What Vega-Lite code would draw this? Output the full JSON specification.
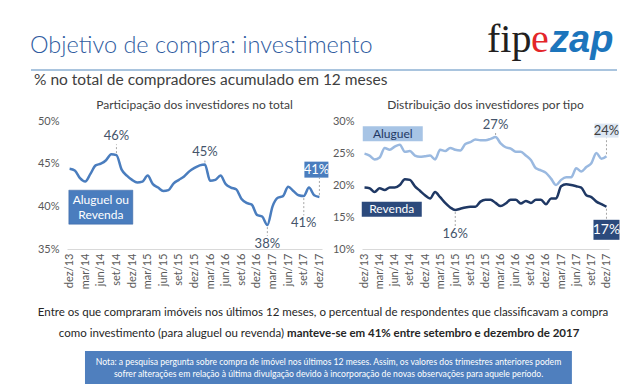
{
  "$schema": "https://vega.github.io/schema/vega-lite/v6.json",
  "background": "white",
  "padding": {"left": 29, "top": 20, "right": 5, "bottom": 0},
  "config": {"view": {"stroke": null}, "font": "Lato", "title": {"fontWeight": "normal"}},
  "spacing": 1,
  "datasets": {
    "serie": [
      {"mes": "dez/13", "total": 44.4, "aluguel": 24.9, "revenda": 19.6},
      {"mes": "jan/14", "total": 44.2, "aluguel": 24.6, "revenda": 19.5},
      {"mes": "fev/14", "total": 43.3, "aluguel": 24.0, "revenda": 18.9},
      {"mes": "mar/14", "total": 42.9, "aluguel": 24.3, "revenda": 19.5},
      {"mes": "abr/14", "total": 43.8, "aluguel": 25.8, "revenda": 19.2},
      {"mes": "mai/14", "total": 44.8, "aluguel": 25.5, "revenda": 19.6},
      {"mes": "jun/14", "total": 45.0, "aluguel": 26.0, "revenda": 19.6},
      {"mes": "jul/14", "total": 45.4, "aluguel": 26.3, "revenda": 20.0},
      {"mes": "ago/14", "total": 46.1, "aluguel": 25.2, "revenda": 20.9},
      {"mes": "set/14", "total": 46.0, "aluguel": 25.3, "revenda": 20.8},
      {"mes": "out/14", "total": 44.3, "aluguel": 24.6, "revenda": 19.8},
      {"mes": "nov/14", "total": 43.6, "aluguel": 24.4, "revenda": 19.1},
      {"mes": "dez/14", "total": 43.1, "aluguel": 24.5, "revenda": 18.4},
      {"mes": "jan/15", "total": 42.8, "aluguel": 24.6, "revenda": 17.9},
      {"mes": "fev/15", "total": 42.9, "aluguel": 24.0, "revenda": 18.9},
      {"mes": "mar/15", "total": 43.6, "aluguel": 25.5, "revenda": 18.1},
      {"mes": "abr/15", "total": 42.6, "aluguel": 25.3, "revenda": 17.2},
      {"mes": "mai/15", "total": 42.2, "aluguel": 25.8, "revenda": 16.5},
      {"mes": "jun/15", "total": 41.8, "aluguel": 25.5, "revenda": 16.1},
      {"mes": "jul/15", "total": 41.9, "aluguel": 25.4, "revenda": 16.3},
      {"mes": "ago/15", "total": 42.7, "aluguel": 26.4, "revenda": 16.5},
      {"mes": "set/15", "total": 43.1, "aluguel": 26.7, "revenda": 16.6},
      {"mes": "out/15", "total": 43.5, "aluguel": 27.1, "revenda": 16.6},
      {"mes": "nov/15", "total": 44.1, "aluguel": 27.0, "revenda": 17.4},
      {"mes": "dez/15", "total": 44.5, "aluguel": 27.0, "revenda": 17.7},
      {"mes": "jan/16", "total": 44.8, "aluguel": 27.2, "revenda": 17.7},
      {"mes": "fev/16", "total": 44.9, "aluguel": 27.5, "revenda": 17.2},
      {"mes": "mar/16", "total": 43.0, "aluguel": 26.5, "revenda": 16.7},
      {"mes": "abr/16", "total": 43.1, "aluguel": 25.9, "revenda": 17.1},
      {"mes": "mai/16", "total": 43.6, "aluguel": 25.7, "revenda": 17.7},
      {"mes": "jun/16", "total": 42.6, "aluguel": 25.2, "revenda": 17.7},
      {"mes": "jul/16", "total": 42.2, "aluguel": 25.2, "revenda": 17.1},
      {"mes": "ago/16", "total": 42.0, "aluguel": 24.6, "revenda": 17.5},
      {"mes": "set/16", "total": 40.9, "aluguel": 23.9, "revenda": 17.2},
      {"mes": "out/16", "total": 40.4, "aluguel": 22.6, "revenda": 17.7},
      {"mes": "nov/16", "total": 40.2, "aluguel": 22.3, "revenda": 17.7},
      {"mes": "dez/16", "total": 39.0, "aluguel": 21.9, "revenda": 17.0},
      {"mes": "jan/17", "total": 38.8, "aluguel": 21.0, "revenda": 17.9},
      {"mes": "fev/17", "total": 37.8, "aluguel": 20.0, "revenda": 17.9},
      {"mes": "mar/17", "total": 40.0, "aluguel": 20.8, "revenda": 19.8},
      {"mes": "abr/17", "total": 41.0, "aluguel": 21.2, "revenda": 20.1},
      {"mes": "mai/17", "total": 41.2, "aluguel": 21.2, "revenda": 20.0},
      {"mes": "jun/17", "total": 42.3, "aluguel": 22.6, "revenda": 19.8},
      {"mes": "jul/17", "total": 41.8, "aluguel": 22.1, "revenda": 19.6},
      {"mes": "ago/17", "total": 41.3, "aluguel": 22.8, "revenda": 18.4},
      {"mes": "set/17", "total": 41.2, "aluguel": 23.4, "revenda": 18.1},
      {"mes": "out/17", "total": 42.2, "aluguel": 25.0, "revenda": 17.4},
      {"mes": "nov/17", "total": 41.3, "aluguel": 24.1, "revenda": 17.0},
      {"mes": "dez/17", "total": 41.1, "aluguel": 24.5, "revenda": 16.6}
    ],
    "anotL": [
      {"mes": "set/14", "v": 46.0, "at": 48.2, "label": "46%", "tipo": "rotulo"},
      {"mes": "fev/16", "v": 44.9, "at": 46.4, "label": "45%", "tipo": "rotulo"},
      {"mes": "fev/17", "v": 37.8, "at": 35.6, "label": "38%", "tipo": "rotulo"},
      {"mes": "set/17", "v": 41.2, "at": 38.0, "label": "41%", "tipo": "rotulo"},
      {"mes": "dez/17", "v": 41.1, "at": 44.3, "label": "41%", "tipo": "caixa"},
      {"mes": "jun/14", "at": 39.9, "label": "Aluguel ou\nRevenda", "tipo": "legenda"}
    ],
    "anotR": [
      {"mes": "fev/16", "v": 27.5, "at": 29.4, "label": "27%", "tipo": "rotulo"},
      {"mes": "jun/15", "v": 16.1, "at": 12.3, "label": "16%", "tipo": "rotulo"},
      {"mes": "dez/17", "v": 24.5, "at": 28.5, "label": "24%", "tipo": "claro"},
      {"mes": "dez/17", "v": 16.6, "at": 13.0, "label": "17%", "tipo": "escuro"},
      {"mes": "jun/14", "at": 28.0, "label": "Aluguel", "tipo": "legclaro"},
      {"mes": "jun/14", "at": 16.2, "label": "Revenda", "tipo": "legescuro"}
    ],
    "textos": [
      {"titulo": "Objetivo de compra: investimento", "logo1": "fip", "logo2": "e", "logo3": "zap",
       "l1": "Entre os que compraram imóveis nos últimos 12 meses, o percentual de respondentes que classificavam a compra",
       "l2a": "como investimento (para aluguel ou revenda)",
       "l2b": "manteve-se em 41% entre setembro e dezembro de 2017",
       "n1": "Nota: a pesquisa pergunta sobre compra de imóvel nos últimos 12 meses. Assim, os valores dos trimestres anteriores podem",
       "n2": "sofrer alterações em relação à última divulgação devido à incorporação de novas observações para aquele período."}
    ]
  },
  "vconcat": [
    {
      "width": 550, "height": 45,
      "data": {"name": "textos"},
      "encoding": {
        "x": {"datum": -0.0655, "type": "quantitative", "scale": {"domain": [0, 1]}, "axis": null},
        "y": {"datum": 0.38, "type": "quantitative", "scale": {"domain": [0, 1]}, "axis": null}
      },
      "layer": [
        {"mark": {"type": "rule", "color": "#A9C4DE", "strokeWidth": 2}, "encoding": {"x2": {"datum": 1}, "y": {"datum": 0, "type": "quantitative"}}},
        {"mark": {"type": "text", "align": "left", "baseline": "alphabetic", "fontSize": 23.5, "fontWeight": 300, "color": "#2F5C9F", "dx": -1}, "encoding": {"text": {"field": "titulo"}}},
        {"mark": {"type": "text", "align": "left", "baseline": "alphabetic", "font": "Liberation Serif", "fontSize": 40, "color": "#231F20", "dx": -130}, "encoding": {"x": {"datum": 1, "type": "quantitative"}, "y": {"datum": 0.4, "type": "quantitative"}, "text": {"field": "logo1"}}},
        {"mark": {"type": "text", "align": "left", "baseline": "alphabetic", "font": "Liberation Serif", "fontSize": 40, "color": "#E3262A", "dx": -86}, "encoding": {"x": {"datum": 1, "type": "quantitative"}, "y": {"datum": 0.4, "type": "quantitative"}, "text": {"field": "logo2"}}},
        {"mark": {"type": "text", "align": "left", "baseline": "alphabetic", "font": "Liberation Sans", "fontSize": 38, "fontWeight": "bold", "fontStyle": "italic", "color": "#1C75BC", "dx": -67}, "encoding": {"x": {"datum": 1, "type": "quantitative"}, "y": {"datum": 0.4, "type": "quantitative"}, "text": {"field": "logo3"}}}
      ]
    },
    {
      "title": {"text": "% no total de compradores acumulado em 12 meses", "anchor": "start", "fontSize": 15.5, "color": "#404040", "dx": 3, "offset": 11},
      "spacing": 2,
      "hconcat": [
        {
          "width": 255, "height": 128,
          "title": {"text": "Participação dos investidores no total", "anchor": "middle", "fontSize": 12, "color": "#404040", "offset": 3},
          "layer": [
            {
              "data": {"name": "serie"},
              "mark": {"type": "line", "color": "#4A7DBE", "strokeWidth": 2.5, "interpolate": "monotone"},
              "encoding": {
                "x": {"field": "mes", "type": "ordinal", "scale": {"type": "point", "padding": 0.5, "domain": ["dez/13","jan/14","fev/14","mar/14","abr/14","mai/14","jun/14","jul/14","ago/14","set/14","out/14","nov/14","dez/14","jan/15","fev/15","mar/15","abr/15","mai/15","jun/15","jul/15","ago/15","set/15","out/15","nov/15","dez/15","jan/16","fev/16","mar/16","abr/16","mai/16","jun/16","jul/16","ago/16","set/16","out/16","nov/16","dez/16","jan/17","fev/17","mar/17","abr/17","mai/17","jun/17","jul/17","ago/17","set/17","out/17","nov/17","dez/17"]},
                  "axis": {"values": ["dez/13","mar/14","jun/14","set/14","dez/14","mar/15","jun/15","set/15","dez/15","mar/16","jun/16","set/16","dez/16","mar/17","jun/17","set/17","dez/17"], "labelAngle": -90, "title": null, "ticks": false, "domainColor": "#D9D9D9", "labelColor": "#595959", "labelFontSize": 11, "labelPadding": 4, "labelOverlap": false}},
                "y": {"field": "total", "type": "quantitative", "scale": {"domain": [35, 50], "nice": false}, "axis": {"values": [35, 40, 45, 50], "labelExpr": "datum.value + '%'", "title": null, "grid": false, "domain": false, "ticks": false, "labelColor": "#595959", "labelFontSize": 11, "minExtent": 36, "labelPadding": 8, "labelOverlap": false}}
              }
            },
            {
              "data": {"name": "anotL"},
              "transform": [{"filter": "isValid(datum.v) && datum.at > datum.v"}],
              "mark": {"type": "rule", "color": "#A6A6A6", "strokeDash": [2, 2], "yOffset": -2, "y2Offset": 8},
              "encoding": {"x": {"field": "mes", "type": "ordinal"}, "y": {"field": "v", "type": "quantitative", "axis": {"values": [35, 40, 45, 50], "labelExpr": "datum.value + '%'", "title": null, "grid": false, "domain": false, "ticks": false, "labelColor": "#595959", "labelFontSize": 11, "minExtent": 36, "labelPadding": 8, "labelOverlap": false}}, "y2": {"field": "at"}}
            },
            {
              "data": {"name": "anotL"},
              "transform": [{"filter": "isValid(datum.v) && datum.at < datum.v"}],
              "mark": {"type": "rule", "color": "#A6A6A6", "strokeDash": [2, 2], "yOffset": 2, "y2Offset": -8},
              "encoding": {"x": {"field": "mes", "type": "ordinal"}, "y": {"field": "v", "type": "quantitative", "axis": {"values": [35, 40, 45, 50], "labelExpr": "datum.value + '%'", "title": null, "grid": false, "domain": false, "ticks": false, "labelColor": "#595959", "labelFontSize": 11, "minExtent": 36, "labelPadding": 8, "labelOverlap": false}}, "y2": {"field": "at"}}
            },
            {
              "data": {"name": "anotL"},
              "transform": [{"filter": "datum.tipo == 'rotulo'"}],
              "mark": {"type": "text", "fontSize": 13, "color": "#44546A", "baseline": "middle"},
              "encoding": {"x": {"field": "mes", "type": "ordinal"}, "y": {"field": "at", "type": "quantitative", "axis": {"values": [35, 40, 45, 50], "labelExpr": "datum.value + '%'", "title": null, "grid": false, "domain": false, "ticks": false, "labelColor": "#595959", "labelFontSize": 11, "minExtent": 36, "labelPadding": 8, "labelOverlap": false}}, "text": {"field": "label"}}
            },
            {
              "data": {"name": "anotL"},
              "transform": [{"filter": "datum.tipo == 'caixa'"}],
              "mark": {"type": "point", "shape": "M-12,-8H12V8H-12Z", "size": 4, "filled": true, "fill": "#4A7DBE", "opacity": 1, "strokeWidth": 0, "xOffset": -3},
              "encoding": {"x": {"field": "mes", "type": "ordinal"}, "y": {"field": "at", "type": "quantitative", "axis": {"values": [35, 40, 45, 50], "labelExpr": "datum.value + '%'", "title": null, "grid": false, "domain": false, "ticks": false, "labelColor": "#595959", "labelFontSize": 11, "minExtent": 36, "labelPadding": 8, "labelOverlap": false}}}
            },
            {
              "data": {"name": "anotL"},
              "transform": [{"filter": "datum.tipo == 'caixa'"}],
              "mark": {"type": "text", "fontSize": 13, "color": "white", "baseline": "middle", "dx": -3},
              "encoding": {"x": {"field": "mes", "type": "ordinal"}, "y": {"field": "at", "type": "quantitative", "axis": {"values": [35, 40, 45, 50], "labelExpr": "datum.value + '%'", "title": null, "grid": false, "domain": false, "ticks": false, "labelColor": "#595959", "labelFontSize": 11, "minExtent": 36, "labelPadding": 8, "labelOverlap": false}}, "text": {"field": "label"}}
            },
            {
              "data": {"name": "anotL"},
              "transform": [{"filter": "datum.tipo == 'legenda'"}],
              "mark": {"type": "point", "shape": "M-32,-17H32V17H-32Z", "size": 4, "filled": true, "fill": "#4A7DBE", "opacity": 1, "stroke": "#3A64A0", "strokeWidth": 0.5},
              "encoding": {"x": {"field": "mes", "type": "ordinal"}, "y": {"field": "at", "type": "quantitative", "axis": {"values": [35, 40, 45, 50], "labelExpr": "datum.value + '%'", "title": null, "grid": false, "domain": false, "ticks": false, "labelColor": "#595959", "labelFontSize": 11, "minExtent": 36, "labelPadding": 8, "labelOverlap": false}}}
            },
            {
              "data": {"name": "anotL"},
              "transform": [{"filter": "datum.tipo == 'legenda'"}],
              "mark": {"type": "text", "fontSize": 12, "color": "white", "baseline": "middle", "lineBreak": "\n", "lineHeight": 15, "dy": -7},
              "encoding": {"x": {"field": "mes", "type": "ordinal"}, "y": {"field": "at", "type": "quantitative", "axis": {"values": [35, 40, 45, 50], "labelExpr": "datum.value + '%'", "title": null, "grid": false, "domain": false, "ticks": false, "labelColor": "#595959", "labelFontSize": 11, "minExtent": 36, "labelPadding": 8, "labelOverlap": false}}, "text": {"field": "label"}}
            }
          ]
        },
        {
          "width": 247, "height": 128,
          "title": {"text": "Distribuição dos investidores por tipo", "anchor": "middle", "fontSize": 12, "color": "#404040", "offset": 3},
          "layer": [
            {
              "data": {"name": "serie"},
              "transform": [{"fold": ["aluguel", "revenda"], "as": ["serie", "valor"]}],
              "mark": {"type": "line", "strokeWidth": 2.5, "interpolate": "monotone"},
              "encoding": {
                "x": {"field": "mes", "type": "ordinal", "scale": {"type": "point", "padding": 0.5, "domain": ["dez/13","jan/14","fev/14","mar/14","abr/14","mai/14","jun/14","jul/14","ago/14","set/14","out/14","nov/14","dez/14","jan/15","fev/15","mar/15","abr/15","mai/15","jun/15","jul/15","ago/15","set/15","out/15","nov/15","dez/15","jan/16","fev/16","mar/16","abr/16","mai/16","jun/16","jul/16","ago/16","set/16","out/16","nov/16","dez/16","jan/17","fev/17","mar/17","abr/17","mai/17","jun/17","jul/17","ago/17","set/17","out/17","nov/17","dez/17"]},
                  "axis": {"values": ["dez/13","mar/14","jun/14","set/14","dez/14","mar/15","jun/15","set/15","dez/15","mar/16","jun/16","set/16","dez/16","mar/17","jun/17","set/17","dez/17"], "labelAngle": -90, "title": null, "ticks": false, "domainColor": "#D9D9D9", "labelColor": "#595959", "labelFontSize": 11, "labelPadding": 4, "labelOverlap": false}},
                "y": {"field": "valor", "type": "quantitative", "scale": {"domain": [10, 30], "nice": false}, "axis": {"values": [10, 15, 20, 25, 30], "labelExpr": "datum.value + '%'", "title": null, "grid": false, "domain": false, "ticks": false, "labelColor": "#595959", "labelFontSize": 11, "minExtent": 30, "labelPadding": 8, "labelOverlap": false}},
                "color": {"field": "serie", "type": "nominal", "scale": {"domain": ["aluguel", "revenda"], "range": ["#9AB9E0", "#1F3864"]}, "legend": null}
              }
            },
            {
              "data": {"name": "anotR"},
              "transform": [{"filter": "isValid(datum.v) && datum.at > datum.v"}],
              "mark": {"type": "rule", "color": "#A6A6A6", "strokeDash": [2, 2], "yOffset": -2, "y2Offset": 7},
              "encoding": {"x": {"field": "mes", "type": "ordinal"}, "y": {"field": "v", "type": "quantitative", "axis": {"values": [10, 15, 20, 25, 30], "labelExpr": "datum.value + '%'", "title": null, "grid": false, "domain": false, "ticks": false, "labelColor": "#595959", "labelFontSize": 11, "minExtent": 30, "labelPadding": 8, "labelOverlap": false}}, "y2": {"field": "at"}}
            },
            {
              "data": {"name": "anotR"},
              "transform": [{"filter": "isValid(datum.v) && datum.at < datum.v"}],
              "mark": {"type": "rule", "color": "#A6A6A6", "strokeDash": [2, 2], "yOffset": 2, "y2Offset": -8},
              "encoding": {"x": {"field": "mes", "type": "ordinal"}, "y": {"field": "v", "type": "quantitative", "axis": {"values": [10, 15, 20, 25, 30], "labelExpr": "datum.value + '%'", "title": null, "grid": false, "domain": false, "ticks": false, "labelColor": "#595959", "labelFontSize": 11, "minExtent": 30, "labelPadding": 8, "labelOverlap": false}}, "y2": {"field": "at"}}
            },
            {
              "data": {"name": "anotR"},
              "transform": [{"filter": "datum.tipo == 'rotulo'"}],
              "mark": {"type": "text", "fontSize": 13, "color": "#44546A", "baseline": "middle"},
              "encoding": {"x": {"field": "mes", "type": "ordinal"}, "y": {"field": "at", "type": "quantitative", "axis": {"values": [10, 15, 20, 25, 30], "labelExpr": "datum.value + '%'", "title": null, "grid": false, "domain": false, "ticks": false, "labelColor": "#595959", "labelFontSize": 11, "minExtent": 30, "labelPadding": 8, "labelOverlap": false}}, "text": {"field": "label"}}
            },
            {
              "data": {"name": "anotR"},
              "transform": [{"filter": "datum.tipo == 'claro'"}],
              "mark": {"type": "point", "shape": "M-12,-7H12V7H-12Z", "size": 4, "filled": true, "fill": "#DCE6F2", "opacity": 1, "strokeWidth": 0},
              "encoding": {"x": {"field": "mes", "type": "ordinal"}, "y": {"field": "at", "type": "quantitative", "axis": {"values": [10, 15, 20, 25, 30], "labelExpr": "datum.value + '%'", "title": null, "grid": false, "domain": false, "ticks": false, "labelColor": "#595959", "labelFontSize": 11, "minExtent": 30, "labelPadding": 8, "labelOverlap": false}}}
            },
            {
              "data": {"name": "anotR"},
              "transform": [{"filter": "datum.tipo == 'claro'"}],
              "mark": {"type": "text", "fontSize": 13, "color": "#404040", "baseline": "middle"},
              "encoding": {"x": {"field": "mes", "type": "ordinal"}, "y": {"field": "at", "type": "quantitative", "axis": {"values": [10, 15, 20, 25, 30], "labelExpr": "datum.value + '%'", "title": null, "grid": false, "domain": false, "ticks": false, "labelColor": "#595959", "labelFontSize": 11, "minExtent": 30, "labelPadding": 8, "labelOverlap": false}}, "text": {"field": "label"}}
            },
            {
              "data": {"name": "anotR"},
              "transform": [{"filter": "datum.tipo == 'escuro'"}],
              "mark": {"type": "point", "shape": "M-13,-10H13V10H-13Z", "size": 4, "filled": true, "fill": "#2C4A7C", "opacity": 1, "strokeWidth": 0},
              "encoding": {"x": {"field": "mes", "type": "ordinal"}, "y": {"field": "at", "type": "quantitative", "axis": {"values": [10, 15, 20, 25, 30], "labelExpr": "datum.value + '%'", "title": null, "grid": false, "domain": false, "ticks": false, "labelColor": "#595959", "labelFontSize": 11, "minExtent": 30, "labelPadding": 8, "labelOverlap": false}}}
            },
            {
              "data": {"name": "anotR"},
              "transform": [{"filter": "datum.tipo == 'escuro'"}],
              "mark": {"type": "text", "fontSize": 14, "color": "white", "baseline": "middle"},
              "encoding": {"x": {"field": "mes", "type": "ordinal"}, "y": {"field": "at", "type": "quantitative", "axis": {"values": [10, 15, 20, 25, 30], "labelExpr": "datum.value + '%'", "title": null, "grid": false, "domain": false, "ticks": false, "labelColor": "#595959", "labelFontSize": 11, "minExtent": 30, "labelPadding": 8, "labelOverlap": false}}, "text": {"field": "label"}}
            },
            {
              "data": {"name": "anotR"},
              "transform": [{"filter": "datum.tipo == 'legclaro'"}],
              "mark": {"type": "point", "shape": "M-30,-7.5H30V7.5H-30Z", "size": 4, "filled": true, "fill": "#A7C4E5", "opacity": 1, "strokeWidth": 0, "xOffset": -2},
              "encoding": {"x": {"field": "mes", "type": "ordinal"}, "y": {"field": "at", "type": "quantitative", "axis": {"values": [10, 15, 20, 25, 30], "labelExpr": "datum.value + '%'", "title": null, "grid": false, "domain": false, "ticks": false, "labelColor": "#595959", "labelFontSize": 11, "minExtent": 30, "labelPadding": 8, "labelOverlap": false}}}
            },
            {
              "data": {"name": "anotR"},
              "transform": [{"filter": "datum.tipo == 'legclaro'"}],
              "mark": {"type": "text", "fontSize": 12, "color": "#1F3864", "baseline": "middle", "dx": -2},
              "encoding": {"x": {"field": "mes", "type": "ordinal"}, "y": {"field": "at", "type": "quantitative", "axis": {"values": [10, 15, 20, 25, 30], "labelExpr": "datum.value + '%'", "title": null, "grid": false, "domain": false, "ticks": false, "labelColor": "#595959", "labelFontSize": 11, "minExtent": 30, "labelPadding": 8, "labelOverlap": false}}, "text": {"field": "label"}}
            },
            {
              "data": {"name": "anotR"},
              "transform": [{"filter": "datum.tipo == 'legescuro'"}],
              "mark": {"type": "point", "shape": "M-30,-7.5H30V7.5H-30Z", "size": 4, "filled": true, "fill": "#2C4A7C", "opacity": 1, "strokeWidth": 0, "xOffset": -3},
              "encoding": {"x": {"field": "mes", "type": "ordinal"}, "y": {"field": "at", "type": "quantitative", "axis": {"values": [10, 15, 20, 25, 30], "labelExpr": "datum.value + '%'", "title": null, "grid": false, "domain": false, "ticks": false, "labelColor": "#595959", "labelFontSize": 11, "minExtent": 30, "labelPadding": 8, "labelOverlap": false}}}
            },
            {
              "data": {"name": "anotR"},
              "transform": [{"filter": "datum.tipo == 'legescuro'"}],
              "mark": {"type": "text", "fontSize": 12, "color": "white", "baseline": "middle", "dx": -3},
              "encoding": {"x": {"field": "mes", "type": "ordinal"}, "y": {"field": "at", "type": "quantitative", "axis": {"values": [10, 15, 20, 25, 30], "labelExpr": "datum.value + '%'", "title": null, "grid": false, "domain": false, "ticks": false, "labelColor": "#595959", "labelFontSize": 11, "minExtent": 30, "labelPadding": 8, "labelOverlap": false}}, "text": {"field": "label"}}
            }
          ]
        }
      ]
    },
    {
      "width": 550, "height": 94,
      "data": {"name": "textos"},
      "encoding": {
        "x": {"datum": 0.4655, "type": "quantitative", "scale": {"domain": [0, 1]}, "axis": null},
        "y": {"datum": 0.5, "type": "quantitative", "scale": {"domain": [0, 1]}, "axis": null}
      },
      "layer": [
        {"mark": {"type": "rect", "color": "#4F7FBE"}, "encoding": {"x": {"datum": 0.0327, "type": "quantitative"}, "x2": {"datum": 0.918}, "y": {"datum": 0, "type": "quantitative"}, "y2": {"datum": 0.351}}},
        {"mark": {"type": "text", "fontSize": 11.5, "color": "#262626", "baseline": "middle"}, "encoding": {"y": {"datum": 0.76, "type": "quantitative"}, "text": {"field": "l1"}}},
        {"mark": {"type": "text", "fontSize": 11.5, "color": "#262626", "baseline": "middle", "align": "right", "dx": -3}, "encoding": {"x": {"datum": 0.4, "type": "quantitative"}, "y": {"datum": 0.535, "type": "quantitative"}, "text": {"field": "l2a"}}},
        {"mark": {"type": "text", "fontSize": 11.5, "color": "#262626", "baseline": "middle", "align": "left", "fontWeight": "bold"}, "encoding": {"x": {"datum": 0.4, "type": "quantitative"}, "y": {"datum": 0.535, "type": "quantitative"}, "text": {"field": "l2b"}}},
        {"mark": {"type": "text", "fontSize": 8.6, "color": "white", "baseline": "middle"}, "encoding": {"x": {"datum": 0.4755, "type": "quantitative"}, "y": {"datum": 0.234, "type": "quantitative"}, "text": {"field": "n1"}}},
        {"mark": {"type": "text", "fontSize": 8.6, "color": "white", "baseline": "middle"}, "encoding": {"x": {"datum": 0.4755, "type": "quantitative"}, "y": {"datum": 0.106, "type": "quantitative"}, "text": {"field": "n2"}}}
      ]
    }
  ]
}
